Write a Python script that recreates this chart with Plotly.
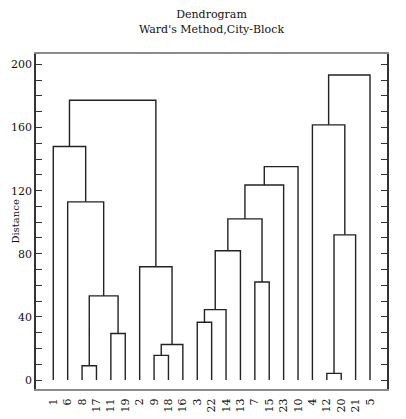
import plotly.graph_objects as go

# leaf order along the x axis
leaves = ["1", "6", "8", "17", "11", "19", "2", "9", "18", "16", "3", "22",
          "14", "13", "7", "15", "23", "10", "4", "12", "20", "21", "5"]

# merges: children are leaf labels or "m<index>" of an earlier merge
merge_left = ["8", "11", "m0", "6", "1", "9", "m5", "2", "m4",
              "3", "m9", "m10", "7", "m11", "m13", "m14",
              "12", "m16", "4", "m18"]
merge_right = ["17", "19", "m1", "m2", "m3", "18", "16", "m6", "m7",
               "22", "14", "13", "15", "m12", "23", "10",
               "20", "21", "m17", "5"]
merge_height = [9.0, 29.5, 53.3, 112.9, 148.0, 15.6, 22.5, 71.8, 177.3,
                36.6, 44.6, 81.9, 62.1, 102.1, 123.6, 135.2,
                4.2, 92.0, 161.7, 193.3]

ytick_vals = [0, 40, 80, 120, 160, 200]

pos = {lab: (i, 0.0) for i, lab in enumerate(leaves)}
xs, ys = [], []
for k, (a, b, h) in enumerate(zip(merge_left, merge_right, merge_height)):
    xa, ha = pos[a]
    xb, hb = pos[b]
    xs += [xa, xa, xb, xb, None]
    ys += [ha, h, h, hb, None]
    pos["m%d" % k] = ((xa + xb) / 2, h)

fig = go.Figure(go.Scatter(x=xs, y=ys, mode="lines",
                           line=dict(color="#222222", width=1.4),
                           hoverinfo="skip", showlegend=False))

serif = "DejaVu Serif"
# page body has an 8px margin, so the figure is sized to fit inside it
fig.update_layout(
    width=398, height=411,
    margin=dict(l=28, r=19, t=46, b=30, autoexpand=False),
    plot_bgcolor="white", paper_bgcolor="white",
    title=dict(text="Dendrogram<br>Ward's Method,City-Block",
               x=0.5, xref="paper", xanchor="center",
               y=0.9745, yanchor="middle",
               font=dict(family=serif, size=11, color="#111")),
    xaxis=dict(range=[-1.2, 23.18], showgrid=False, zeroline=False,
               tickvals=list(range(len(leaves))), ticktext=leaves,
               tickangle=-90, ticks="", ticklabelstandoff=3,
               showline=True, mirror=True, linecolor="#8a8a8a", linewidth=2,
               tickfont=dict(family=serif, size=11, color="#111")),
    yaxis=dict(range=[-5.7, 206.6], showgrid=False, zeroline=False,
               tickvals=ytick_vals, ticks="inside", ticklen=6,
               tickcolor="#333", tickwidth=1.2,
               minor=dict(dtick=10, tick0=0, ticks="inside", ticklen=6,
                          tickcolor="#333", tickwidth=1.2),
               showline=True, mirror="ticks", linecolor="#333", linewidth=1.5,
               tickfont=dict(family=serif, size=11, color="#111")),
    annotations=[dict(text="Distance", textangle=-90, xref="paper", yref="paper",
                      x=-0.057, y=0.5, xanchor="center", yanchor="middle",
                      showarrow=False,
                      font=dict(family=serif, size=10, color="#111"))],
)

fig.write_html("out.html")
